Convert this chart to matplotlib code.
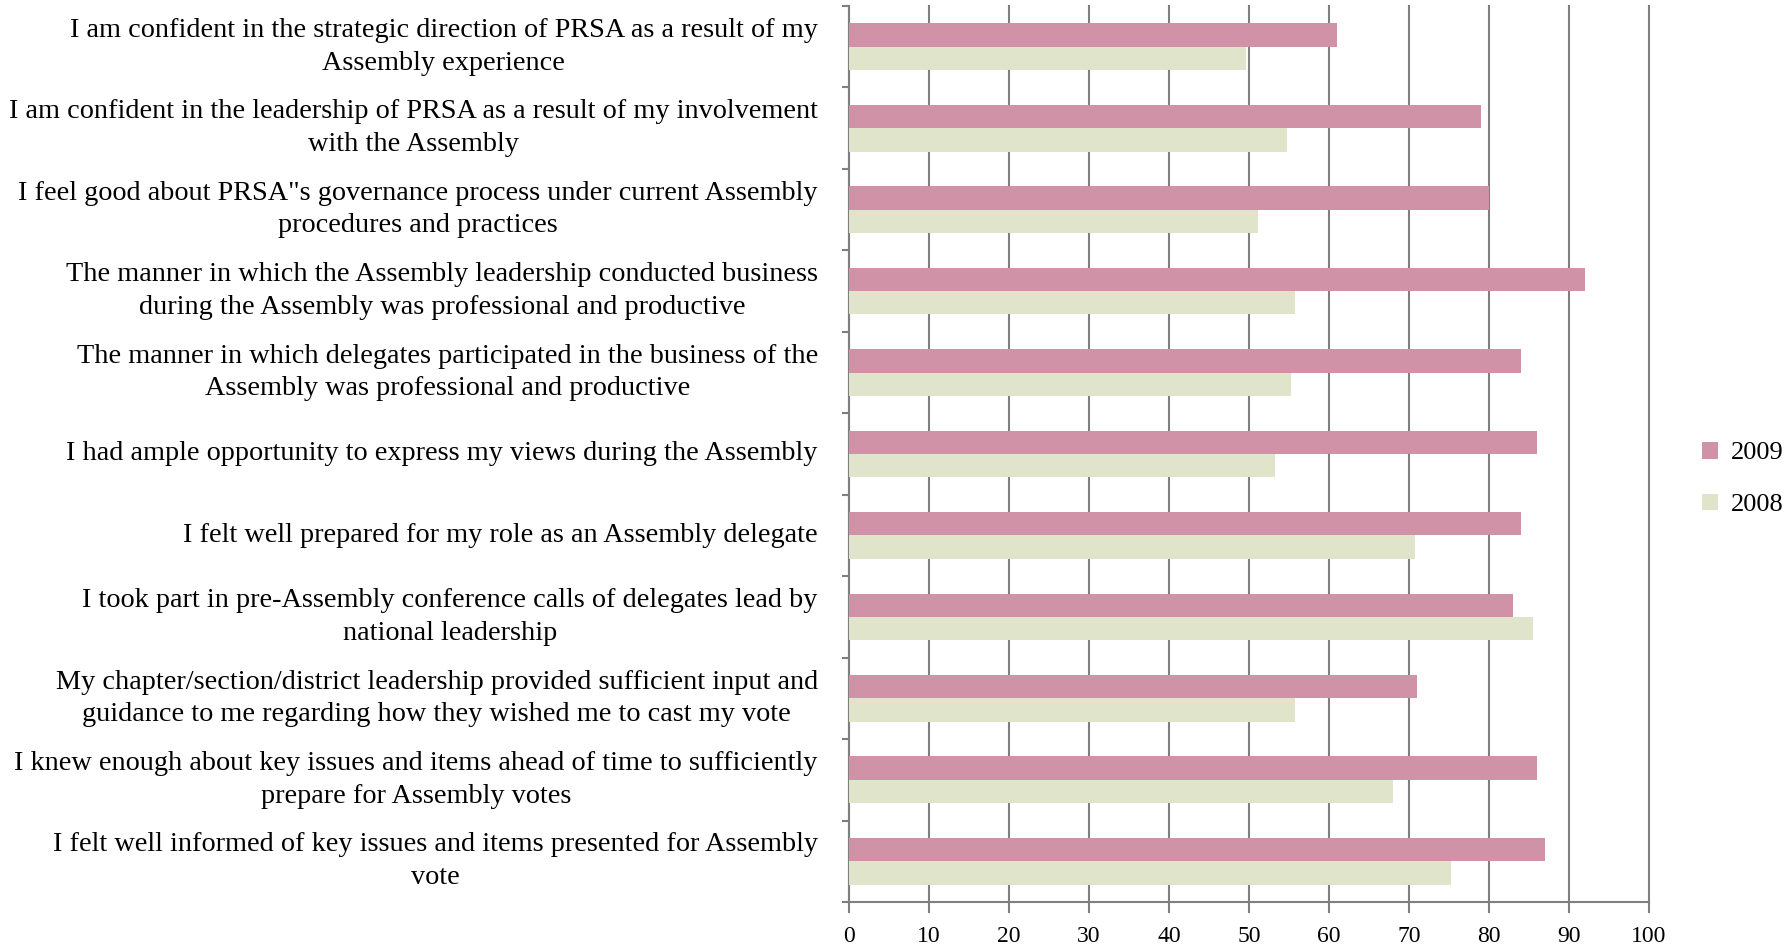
import matplotlib.pyplot as plt
import numpy as np

# Survey statements, top to bottom as shown in the chart
statements = [
    "I am confident in the strategic direction of PRSA as a result of my\nAssembly experience",
    "I am confident in the leadership of PRSA as a result of my involvement\nwith the Assembly",
    "I feel good about PRSA\"s governance process under current Assembly\nprocedures and practices",
    "The manner in which the Assembly leadership conducted business\nduring the Assembly was professional and productive",
    "The manner in which delegates participated in the business of the\nAssembly was professional and productive",
    "I had ample opportunity to express my views during the Assembly",
    "I felt well prepared for my role as an Assembly delegate",
    "I took part in pre-Assembly conference calls of delegates lead by\nnational leadership",
    "My chapter/section/district leadership provided sufficient input and\nguidance to me regarding how they wished me to cast my vote",
    "I knew enough about key issues and items ahead of time to sufficiently\nprepare for Assembly votes",
    "I felt well informed of key issues and items presented for Assembly\nvote",
]

# Percent agreeing
pct_2009 = [61, 79, 80, 92, 84, 86, 84, 83, 71, 86, 87]
pct_2008 = [49.6, 54.8, 51.1, 55.7, 55.2, 53.2, 70.8, 85.5, 55.7, 68.0, 75.2]

x_ticks = [0, 10, 20, 30, 40, 50, 60, 70, 80, 90, 100]

col_2009 = '#D092A7'
col_2008 = '#DFE4CB'
grey = '#7F7F7F'

plt.rcParams['font.family'] = ['Liberation Serif', 'DejaVu Serif']

fig = plt.figure(figsize=(17.92, 9.51), dpi=100)
ax = fig.add_axes([849 / 1792, 1 - 902 / 951, 800 / 1792, 896 / 951])

y = np.arange(len(statements))
h = 0.287
ax.barh(y - h / 2, pct_2009, height=h, color=col_2009, label='2009', zorder=3)
ax.barh(y + h / 2, pct_2008, height=h, color=col_2008, label='2008', zorder=3)

ax.set_xlim(0, 100)
ax.set_ylim(len(statements) - 0.5, -0.5)
ax.set_xticks(x_ticks)
ax.set_xticklabels([str(t) for t in x_ticks], fontsize=17)
ax.xaxis.grid(True, color=grey, linewidth=1.5, zorder=0)
for gl in ax.get_xgridlines():
    gl.set_clip_on(False)
ax.tick_params(axis='x', length=8, width=1.5, color=grey, pad=9)

# category labels drawn as text, ticks at category boundaries
ax.set_yticks(np.arange(len(statements) + 1) - 0.5)
ax.set_yticklabels([])
ax.tick_params(axis='y', length=5, width=1.5, color=grey)
for i, s in enumerate(statements):
    ax.text(-3.9, i, s, ha='right', va='center', multialignment='center',
            fontsize=20.3, linespacing=1.4)

for side in ['top', 'right']:
    ax.spines[side].set_visible(False)
for side in ['left', 'bottom']:
    ax.spines[side].set_color(grey)
    ax.spines[side].set_linewidth(1.5)

ax.legend(loc='center left', bbox_to_anchor=(1678 / 1792, 1 - 479 / 951),
          bbox_transform=fig.transFigure, frameon=False, fontsize=19,
          handlelength=0.6, handleheight=0.6, labelspacing=1.1,
          handletextpad=0.5)

fig.savefig('out.png', dpi=100)
